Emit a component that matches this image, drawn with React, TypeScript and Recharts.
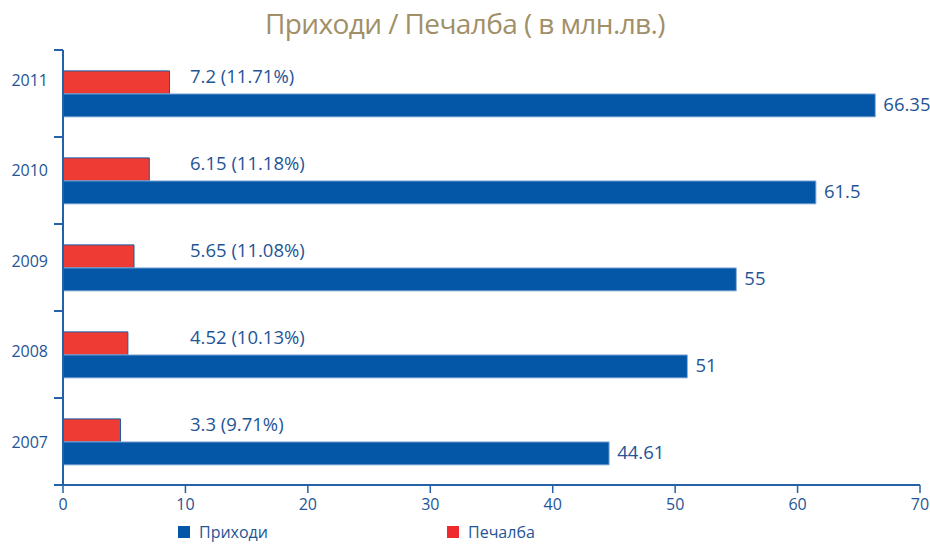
import { BarChart, Bar, XAxis, YAxis, LabelList } from "recharts";

const years = ["2011", "2010", "2009", "2008", "2007"];
const revenue = [66.35, 61.5, 55, 51, 44.61];
// bar lengths as drawn in the picture (they differ from the printed labels)
const profit = [8.7, 7.05, 5.8, 5.3, 4.7];
const profitLabels = ["7.2 (11.71%)", "6.15 (11.18%)", "5.65 (11.08%)", "4.52 (10.13%)", "3.3 (9.71%)"];
const xTicks = [0, 10, 20, 30, 40, 50, 60, 70];

const BLUE = "#0457a7";
const RED = "#ee3b33";
const TEXT = "#1f5596";
const AXIS = "#2461a8";
const FONT = "'Open Sans', sans-serif";

const data = years.map((year, i) => ({
  year,
  revenue: revenue[i],
  profit: profit[i],
  profitLabel: profitLabels[i],
}));

const WIDTH = 930;
const HEIGHT = 544;
const MARGIN = { top: 50, right: 10, bottom: 30, left: 0 };
const BAND = (HEIGHT - MARGIN.top - MARGIN.bottom - 29) / years.length;

function YearTick(props: any) {
  const { x, y, payload, index } = props;
  const half = BAND / 2;
  return (
    <g>
      <text
        x={x - 15}
        y={y - 14 + index * 3.5}
        textAnchor="end"
        dominantBaseline="central"
        fill={TEXT}
        fontSize={16}
        fontFamily={FONT}
      >
        {payload.value}
      </text>
      <line x1={x - 9} x2={x} y1={y - half} y2={y - half} stroke={AXIS} strokeWidth={2} />
      <line x1={x - 9} x2={x} y1={y + half} y2={y + half} stroke={AXIS} strokeWidth={2} />
    </g>
  );
}

function ProfitLabel(props: any) {
  const { x, y, height, value } = props;
  return (
    <text
      x={x + 127}
      y={y + height / 2 - 7}
      dominantBaseline="central"
      fill={TEXT}
      fontSize={18.5}
      fontFamily={FONT}
    >
      {value}
    </text>
  );
}

function RevenueLabel(props: any) {
  const { x, y, width, height, value } = props;
  return (
    <text
      x={x + width + 8}
      y={y + height / 2 - 2}
      dominantBaseline="central"
      fill={TEXT}
      fontSize={18.5}
      fontFamily={FONT}
    >
      {value}
    </text>
  );
}

export default function App() {
  return (
    <div style={{ position: "absolute", left: 0, top: 0, width: WIDTH, height: HEIGHT, background: "#fff", fontFamily: FONT }}>
      <div
        style={{
          position: "absolute",
          top: 4,
          left: 0,
          width: WIDTH,
          textAlign: "center",
          color: "#a18f68",
          fontSize: 28,
          letterSpacing: -0.6,
          fontFamily: FONT,
        }}
      >
        Приходи / Печалба ( в млн.лв.)
      </div>
      <BarChart
        width={WIDTH}
        height={HEIGHT}
        data={data}
        layout="vertical"
        margin={MARGIN}
        barCategoryGap="24%"
        barGap={0}
      >
        <XAxis
          type="number"
          domain={[0, 70]}
          ticks={xTicks}
          interval={0}
          height={29}
          axisLine={{ stroke: AXIS, strokeWidth: 2 }}
          tickLine={{ stroke: AXIS, strokeWidth: 1.5 }}
          tickSize={8}
          tickMargin={6}
          tick={{ fill: TEXT, fontSize: 16, fontFamily: FONT }}
        />
        <YAxis
          type="category"
          dataKey="year"
          width={63}
          axisLine={{ stroke: AXIS, strokeWidth: 2 }}
          tickLine={false}
          tickSize={0}
          tickMargin={0}
          tick={<YearTick />}
        />
        <Bar dataKey="profit" fill={RED} stroke="#1b5aa6" strokeWidth={1} isAnimationActive={false}>
          <LabelList dataKey="profitLabel" content={<ProfitLabel />} />
        </Bar>
        <Bar dataKey="revenue" fill={BLUE} stroke="#8fb3dc" strokeWidth={1} isAnimationActive={false}>
          <LabelList dataKey="revenue" content={<RevenueLabel />} />
        </Bar>
      </BarChart>
      <div style={{ position: "absolute", top: 521, left: 178, display: "flex", alignItems: "center", color: TEXT, fontSize: 16, lineHeight: "22px" }}>
        <span style={{ width: 12, height: 12, background: BLUE, display: "inline-block", marginRight: 9 }} />
        Приходи
      </div>
      <div style={{ position: "absolute", top: 521, left: 447, display: "flex", alignItems: "center", color: TEXT, fontSize: 16, lineHeight: "22px" }}>
        <span style={{ width: 12, height: 12, background: "#ee2a2f", display: "inline-block", marginRight: 9 }} />
        Печалба
      </div>
    </div>
  );
}
